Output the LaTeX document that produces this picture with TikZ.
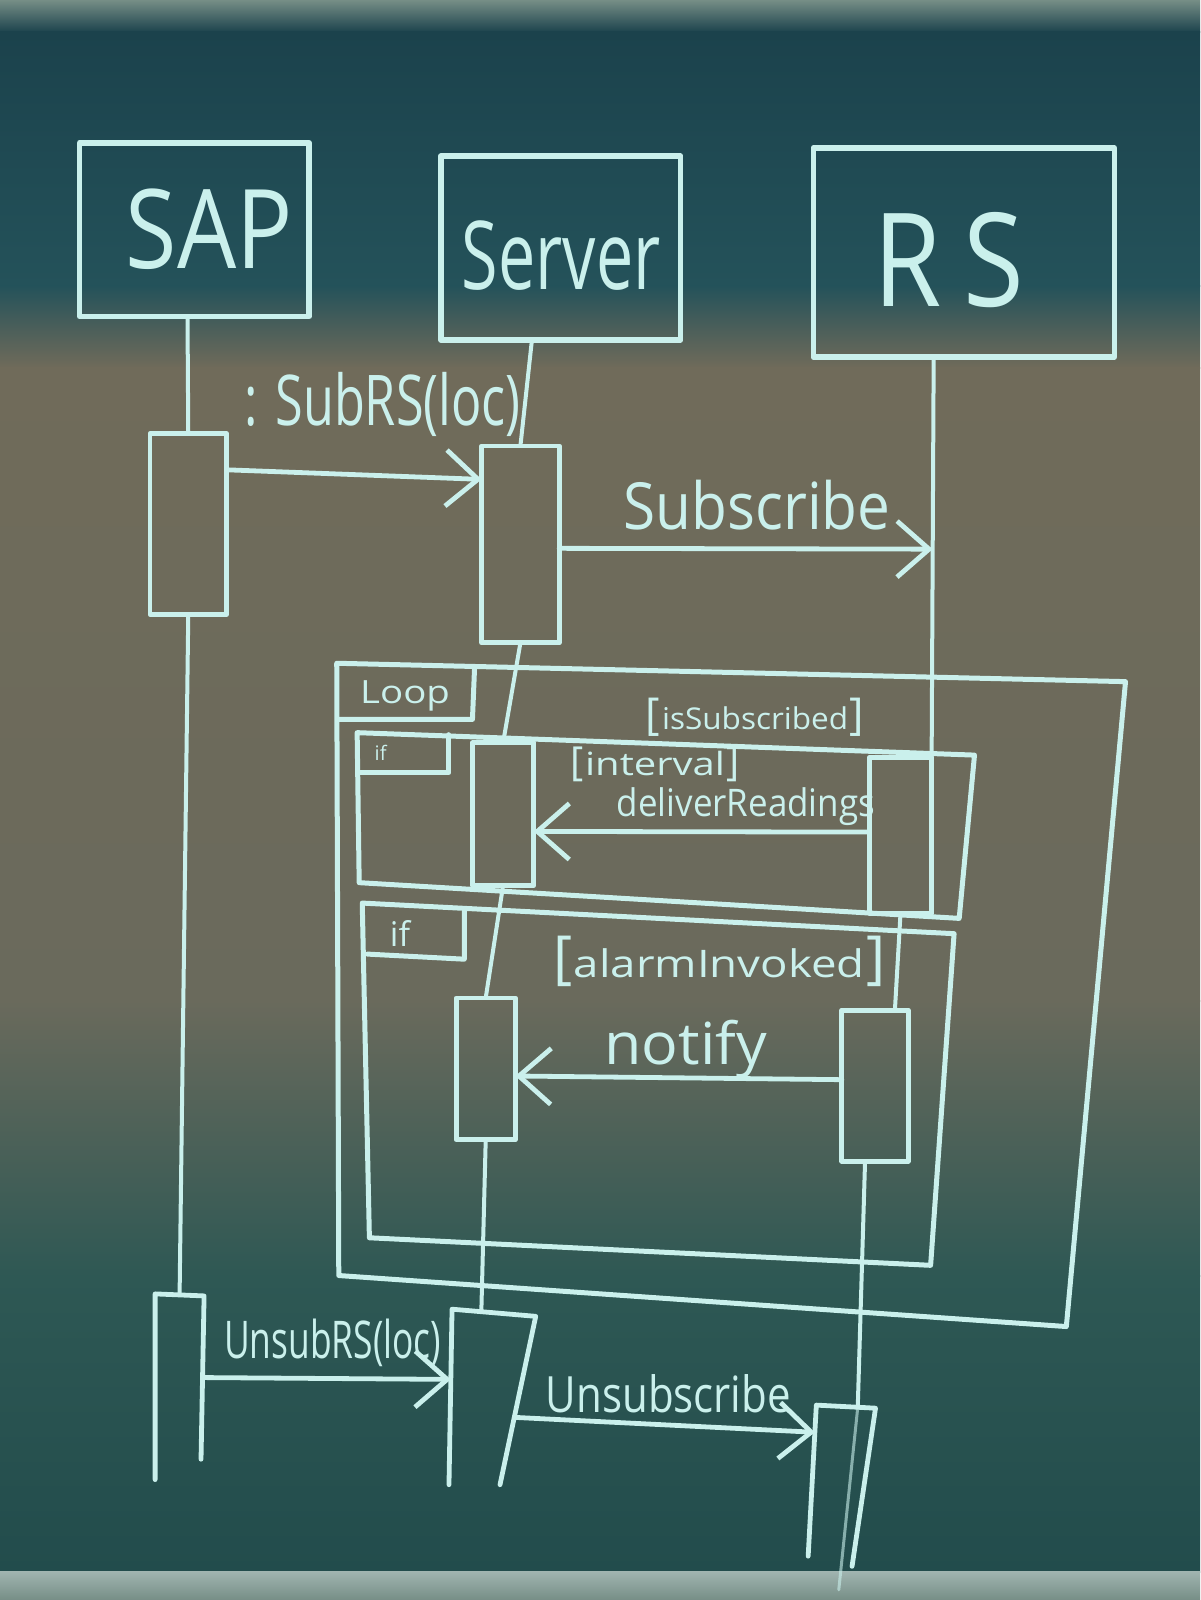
\documentclass[tikz,border=0pt]{standalone}
\usepackage{fontspec}
\usepackage{graphicx}
\setmainfont{Open Sans}
\usetikzlibrary{arrows.meta,calc}
\definecolor{chalk}{RGB}{202,240,236}
\definecolor{bgA}{RGB}{118,142,134}
\definecolor{bgB}{RGB}{27,66,76}
\definecolor{bgC}{RGB}{36,82,90}
\definecolor{bgD}{RGB}{112,107,90}
\definecolor{bgE}{RGB}{106,106,92}
\definecolor{bgF}{RGB}{46,88,84}
\definecolor{bgG}{RGB}{34,76,76}
\definecolor{bgH}{RGB}{160,180,176}
\newcommand{\hw}[3]{\scalebox{#2}[1]{\fontsize{#1}{#1}\selectfont #3}}
\newcommand{\grd}[4]{{\fontsize{#1}{#1}\selectfont[}\,\hw{#2}{#3}{#4}\,{\fontsize{#1}{#1}\selectfont]}}
\begin{document}
\begin{tikzpicture}[x=1.0204pt,y=-1.0204pt,
  chalkline/.style={draw=chalk, line width=4.8pt, line cap=round, line join=round},
  headbox/.style={chalkline, line width=5.5pt, inner sep=0pt, outer sep=0pt},
  act/.style={chalkline, inner sep=0pt, outer sep=0pt},
  life/.style={chalkline, line width=4pt},
  frame/.style={chalkline, line width=5pt},
  msg/.style={chalkline, -{Straight Barb[length=32pt,width=56pt]}},
  lbl/.style={text=chalk, inner sep=0pt, anchor=center}]
\useasboundingbox (0,0) rectangle (1176,1568);
% board
\shade[top color=bgA, bottom color=bgB] (0,0) rectangle (1176,32);
\shade[top color=bgB, bottom color=bgC] (0,31) rectangle (1176,281);
\shade[top color=bgC, bottom color=bgD] (0,280) rectangle (1176,361);
\shade[top color=bgD, bottom color=bgE] (0,360) rectangle (1176,981);
\shade[top color=bgE, bottom color=bgF] (0,980) rectangle (1176,1251);
\shade[top color=bgF, bottom color=bgG] (0,1250) rectangle (1176,1541);
\shade[top color=bgH, bottom color=bgA] (0,1540) rectangle (1176,1568);

% header boxes
\node[headbox, minimum width=225*1.0204pt, minimum height=170*1.0204pt] (sap) at (190.5,225) {};
\node[headbox, minimum width=235*1.0204pt, minimum height=180*1.0204pt] (srv) at (549.5,243) {};
\node[headbox, minimum width=295*1.0204pt, minimum height=205*1.0204pt] (rs) at (944.5,247.5) {};
\node[lbl] (sapT) at (205,225) {\hw{110}{0.85}{SAP}};
\node[lbl] (srvT) at (550,250) {\hw{95}{0.7}{Server}};
\node[lbl] (rsT) at (930,255) {\hw{130}{0.85}{R\kern25pt S}};

% activation boxes
\node[act, minimum width=75*1.0204pt, minimum height=177*1.0204pt] (sapA1) at (184.5,513.5) {};
\node[act, minimum width=76*1.0204pt, minimum height=193*1.0204pt] (srvA1) at (510,533.5) {};
\node[act, minimum width=60*1.0204pt, minimum height=140*1.0204pt] (srvA2) at (493,798) {};
\node[act, minimum width=61*1.0204pt, minimum height=153*1.0204pt] (rsA1) at (882.5,818.5) {};
\node[act, minimum width=58*1.0204pt, minimum height=139*1.0204pt] (srvA3) at (476,1047.5) {};
\node[act, minimum width=65*1.0204pt, minimum height=148*1.0204pt] (rsA2) at (857.5,1064) {};
% open boxes at the bottom
\coordinate (a2tl) at (152,1268); \coordinate (a2tr) at (200,1270);
\coordinate (a2br) at (197,1430); \coordinate (a2bl) at (152,1450);
\draw[act] (a2bl) -- (a2tl) -- (a2tr) -- (a2br);
\coordinate (s4tl) at (443,1283); \coordinate (s4tr) at (525,1290);
\coordinate (s4br) at (490,1455); \coordinate (s4bl) at (440,1455);
\draw[act] (s4bl) -- (s4tl) -- (s4tr) -- (s4br);
\coordinate (r3tl) at (800,1377); \coordinate (r3tr) at (858,1380);
\coordinate (r3br) at (835,1535); \coordinate (r3bl) at (792,1525);
\draw[act] (r3bl) -- (r3tl) -- (r3tr) -- (r3br);

% lifelines
\coordinate (sapL0) at ($(sap.south west)!0.47!(sap.south east)$);
\coordinate (srvL0) at ($(srv.south west)!0.38!(srv.south east)$);
\coordinate (rsL0) at ($(rs.south west)!0.4!(rs.south east)$);
\coordinate (rsEnd) at (822,1558);
\draw[life] (sapL0) -- (sapA1.north);
\draw[life] (sapA1.south) -- ($(a2tl)!0.5!(a2tr)$);
\draw[life] (srvL0) -- (srvA1.north);
\draw[life] (srvA1.south) -- (srvA2.north);
\draw[life] (srvA2.south) -- (srvA3.north);
\draw[life] (srvA3.south) -- ($(s4tl)!0.35!(s4tr)$);
\draw[life] (rsL0) -- (rsA1.north east);
\draw[life] ($(rsA1.south west)!0.5!(rsA1.south east)$) -- ($(rsA2.north west)!0.8!(rsA2.north east)$);
\draw[life] ($(rsA2.south west)!0.35!(rsA2.south east)$) -- ($(r3tl)!0.7!(r3tr)$);
\draw[life, line width=3pt, draw opacity=0.6] ($(r3tl)!0.7!(r3tr)$) -- (rsEnd);

% combined fragments
\draw[frame] (330,650) -- (1103,668) -- (1045,1300) -- (332,1250) -- cycle;
\draw[frame] (332,705) -- (463,705) -- (465,656);
\node[lbl] (loopT) at (397,682) {\hw{32}{1.2}{Loop}};
\node[lbl] (g1) at (740,703) {\grd{44}{30}{1.05}{isSubscribed}};

\draw[frame] (350,718) -- (955,740) -- (940,900) -- (352,865) -- cycle;
\draw[frame] (352,757) -- (440,757) -- (440,720);
\node[lbl] (if1T) at (373,738) {\hw{20}{1}{if}};
\node[lbl] (g2) at (642,749) {\grd{40}{32}{1.25}{interval}};

\draw[frame] (355,885) -- (935,915) -- (912,1240) -- (362,1213) -- cycle;
\draw[frame] (360,935) -- (455,940) -- (455,893);
\node[lbl] (if2T) at (392,915) {\hw{34}{1}{if}};
\node[lbl] (g3) at (705,942) {\grd{58}{38}{1.2}{alarmInvoked}};

% messages
\draw[msg] ($(sapA1.north east)!0.2!(sapA1.south east)$) -- ($(srvA1.north west)!0.17!(srvA1.south west)$);
\node[lbl] (m1) at (375,396) {\hw{70}{0.72}{: SubRS(loc)}};
\draw[msg] ($(srvA1.north east)!0.52!(srvA1.south east)$) -- ($(rsL0)!0.48!(rsA1.north east)$);
\node[lbl] (m2) at (742,495) {\hw{65}{0.9}{Subscribe}};
\draw[msg] ($(rsA1.north west)!0.48!(rsA1.south west)$) -- ($(srvA2.north east)!0.62!(srvA2.south east)$);
\node[lbl] (m3) at (731,790) {\hw{38}{0.92}{deliverReadings}};
\draw[msg] ($(rsA2.north west)!0.46!(rsA2.south west)$) -- ($(srvA3.north east)!0.55!(srvA3.south east)$);
\node[lbl] (m4) at (672,1028) {\hw{58}{1.05}{notify}};
\draw[msg] ($(a2tr)!0.5!(a2br)$) -- ($(s4tl)!0.4!(s4bl)$);
\node[lbl] (m5) at (326,1316) {\hw{52}{0.68}{UnsubRS(loc)}};
\draw[msg] ($(s4tr)!0.6!(s4br)$) -- ($(r3tl)!0.18!(r3bl)$);
\node[lbl] (m6) at (655,1366) {\hw{50}{0.84}{Unsubscribe}};
\end{tikzpicture}
\end{document}
